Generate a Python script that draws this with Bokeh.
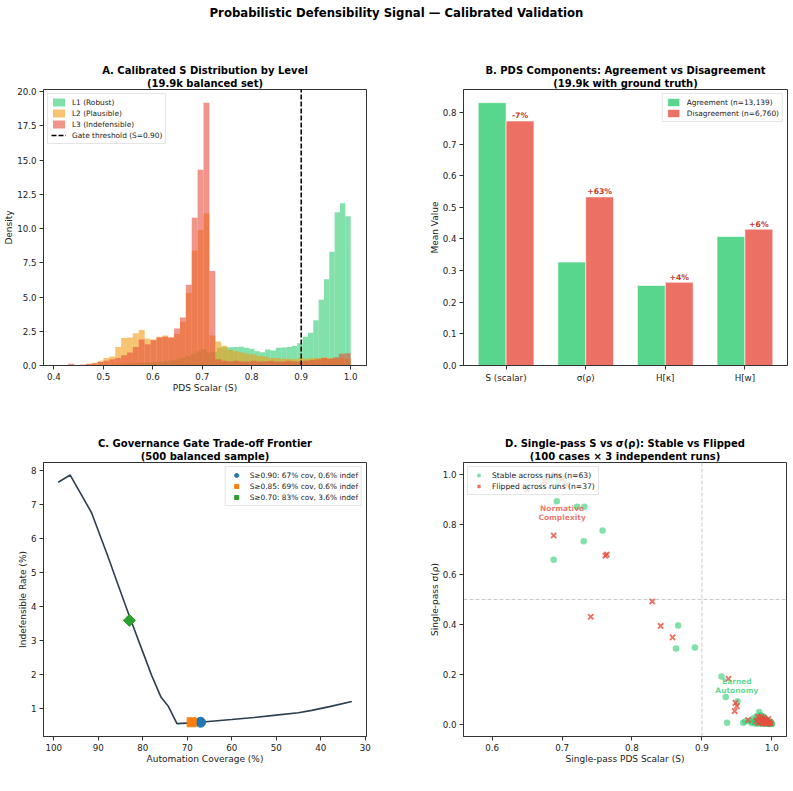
import numpy as np
from bokeh.plotting import figure
from bokeh.models import (Range1d, FixedTicker, NumeralTickFormatter, Legend, LegendItem,
                          Title, Label, Div, Span)
from bokeh.layouts import column, row
from bokeh.embed import file_html
from bokeh.resources import INLINE
from bokeh.core.properties import value

FONT = "DejaVu Sans"

# ---------------- Panel A: calibrated S histograms (density per bin) ----------------
L1_BIN_START, L1_BIN_WIDTH = 0.46, 0.0108
L23_BIN_START, L23_BIN_WIDTH = 0.405, 0.0119
L1_DENSITY = [0.02, 0.03, 0.03, 0.05, 0.06, 0.08, 0.10, 0.12, 0.14, 0.16,
              0.18, 0.20, 0.22, 0.25, 0.28, 0.32, 0.38, 0.45, 0.55, 0.68,
              0.85, 1.05, 1.20, 0.95, 1.00, 1.30, 1.35, 1.33, 1.35, 1.37,
              1.30, 1.22, 1.05, 0.97, 1.17, 1.10, 1.30, 1.32, 1.35, 1.45,
              1.62, 2.10, 2.40, 3.30, 4.80, 6.30, 8.30, 11.20, 11.85, 10.90]
L2_DENSITY = [0.00, 0.00, 0.00, 0.00, 0.05, 0.10, 0.20, 0.35, 0.55, 0.65,
              1.35, 2.00, 2.05, 2.35, 2.60, 1.95, 1.90, 2.10, 2.20, 2.05,
              2.30, 3.20, 5.30, 8.40, 9.90, 11.10, 2.20, 1.75, 1.45, 1.15,
              1.05, 0.95, 0.85, 0.80, 0.70, 0.65, 0.55, 0.55, 0.50, 0.50,
              0.45, 0.55, 0.50, 0.55, 0.55, 0.60, 0.55, 0.50, 0.55, 0.50]
L3_DENSITY = [0.00, 0.00, 0.12, 0.00, 0.05, 0.12, 0.15, 0.25, 0.35, 0.45,
              0.55, 0.75, 0.95, 1.35, 1.90, 1.55, 1.85, 2.05, 2.10, 2.05,
              2.70, 3.50, 5.90, 10.80, 14.30, 19.20, 6.90, 0.45, 0.35, 0.30,
              0.35, 0.30, 0.30, 0.35, 0.30, 0.30, 0.35, 0.30, 0.30, 0.35,
              0.30, 0.30, 0.35, 0.40, 0.45, 0.55, 0.50, 0.60, 0.85, 0.90]
LEVEL_LABELS = ["L1 (Robust)", "L2 (Plausible)", "L3 (Indefensible)"]
GATE_THRESHOLD = 0.90

# ---------------- Panel B: component means ----------------
COMPONENTS = ["S (scalar)", "σ(ρ)", "H[κ]", "H[w]"]
AGREE_MEAN = [0.831, 0.327, 0.253, 0.408]
DISAGREE_MEAN = [0.773, 0.533, 0.263, 0.431]
N_AGREE, N_DISAGREE = 13139, 6760

# ---------------- Panel C: trade-off frontier ----------------
COVERAGE = [99.0, 96.3, 94.0, 91.5, 88.0, 85.0, 82.7, 80.0, 78.0, 75.9, 74.3,
            72.3, 69.1, 67.2, 60.0, 55.0, 50.0, 45.0, 42.0, 38.0, 33.0]
INDEF_RATE = [7.67, 7.88, 7.35, 6.77, 5.55, 4.45, 3.62, 2.68, 1.98, 1.34, 1.08,
              0.56, 0.58, 0.60, 0.68, 0.74, 0.81, 0.88, 0.95, 1.06, 1.21]
GATE_LEVELS = [0.90, 0.85, 0.70]
GATE_COVERAGE = [67, 69, 83]
GATE_INDEF = [0.6, 0.6, 3.6]

# ---------------- Panel D: single-pass S vs sigma(rho) ----------------
STABLE_S = [0.6925, 0.7215, 0.732, 0.758, 0.731, 0.688, 0.866, 0.863, 0.890, 0.928,
            0.934, 0.951, 0.936, 0.959, 0.982,
            0.676, 0.683, 0.689, 0.695, 0.700, 0.705, 0.692,
            0.968, 0.971, 0.974, 0.976, 0.977, 0.979, 0.980, 0.981, 0.982, 0.983,
            0.984, 0.985, 0.986, 0.986, 0.987, 0.988, 0.989, 0.990, 0.990, 0.991,
            0.992, 0.992, 0.993, 0.994, 0.994, 0.995, 0.995, 0.996, 0.996, 0.997,
            0.997, 0.998, 0.998, 0.999, 0.999, 1.000, 0.978, 0.973, 0.988, 0.962, 0.984]
STABLE_SIGMA = [0.894, 0.872, 0.872, 0.777, 0.734, 0.660, 0.396, 0.303, 0.307, 0.191,
                0.109, 0.092, 0.005, 0.005, 0.048,
                0.992, 0.985, 0.998, 0.978, 0.990, 0.968, 0.960,
                0.012, 0.004, 0.008, 0.002, 0.015, 0.006, 0.010, 0.001, 0.018, 0.005,
                0.012, 0.003, 0.020, 0.008, 0.001, 0.014, 0.006, 0.002, 0.024, 0.010,
                0.004, 0.016, 0.001, 0.008, 0.012, 0.003, 0.006, 0.000, 0.010, 0.002,
                0.005, 0.001, 0.007, 0.000, 0.003, 0.001, 0.030, 0.022, 0.030, 0.010, 0.035]
FLIPPED_S = [0.650, 0.707, 0.688, 0.764, 0.762, 0.741, 0.829, 0.841, 0.858, 0.938,
             0.948, 0.950, 0.947, 0.966, 0.980,
             0.680, 0.690, 0.700, 0.675,
             0.978, 0.981, 0.983, 0.984, 0.986, 0.987, 0.988, 0.989, 0.990, 0.991,
             0.992, 0.993, 0.994, 0.995, 0.996, 0.997, 0.999, 0.985]
FLIPPED_SIGMA = [0.943, 0.960, 0.757, 0.681, 0.676, 0.431, 0.492, 0.394, 0.348, 0.182,
                 0.085, 0.072, 0.052, 0.016, 0.029,
                 0.990, 1.000, 0.985, 0.975,
                 0.012, 0.004, 0.020, 0.008, 0.015, 0.002, 0.025, 0.010, 0.005, 0.018,
                 0.001, 0.012, 0.006, 0.020, 0.003, 0.010, 0.002, 0.030]

GREEN, ORANGE, RED = "#2ecc71", "#f39c12", "#e74c3c"
AXIS_COLOR = "#333333"
TEXT_COLOR = "#222222"


def make_fig(x_range, y_range, frame_w, frame_h, left, right, top, bottom):
    p = figure(x_range=x_range, y_range=y_range, frame_width=frame_w, frame_height=frame_h,
               min_border_left=left, min_border_right=right, min_border_top=top,
               min_border_bottom=bottom, output_backend="svg", toolbar_location=None)
    p.outline_line_color = AXIS_COLOR
    p.outline_line_width = 1
    p.grid.visible = False
    for ax in p.axis:
        ax.axis_line_color = AXIS_COLOR
        ax.major_tick_line_color = AXIS_COLOR
        ax.major_tick_out = 4
        ax.major_tick_in = 0
        ax.minor_tick_out = 0
        ax.minor_tick_in = 0
        ax.major_label_text_font = FONT
        ax.major_label_text_font_size = "8.7px"
        ax.major_label_text_color = TEXT_COLOR
        ax.major_label_standoff = 3
        ax.axis_label_text_font = FONT
        ax.axis_label_text_font_size = "9px"
        ax.axis_label_text_font_style = "normal"
        ax.axis_label_text_color = TEXT_COLOR
        ax.axis_label_standoff = 0
    return p


def add_titles(p, line1, line2):
    p.add_layout(Title(text=line2, align="center", text_font=FONT, text_font_size="10px",
                       text_font_style="bold", text_color="black", standoff=1), "above")
    p.add_layout(Title(text=line1, align="center", text_font=FONT, text_font_size="10px",
                       text_font_style="bold", text_color="black", standoff=0), "above")


def style_legend(items, location, font_size="7.4px"):
    return Legend(items=items, location=location, label_text_font=FONT,
                  label_text_font_size=font_size, label_text_color=TEXT_COLOR,
                  glyph_height=10, glyph_width=15, label_height=10,
                  spacing=1, padding=3, margin=4, label_standoff=6,
                  border_line_color="#cccccc", border_line_width=1,
                  background_fill_color="white", background_fill_alpha=0.8)


# ---------------- Panel A ----------------
a_top = max(L3_DENSITY) * 1.05
pA = make_fig(Range1d(0.379, 1.032), Range1d(0, a_top), 323, 276, 43, 34, 61, 43)
add_titles(pA, "A. Calibrated S Distribution by Level", "(19.9k balanced set)")
hist_renderers = []
for dens, start, width, color in [(L1_DENSITY, L1_BIN_START, L1_BIN_WIDTH, GREEN),
                                  (L2_DENSITY, L23_BIN_START, L23_BIN_WIDTH, ORANGE),
                                  (L3_DENSITY, L23_BIN_START, L23_BIN_WIDTH, RED)]:
    edges = start + width * np.arange(len(dens) + 1)
    r = pA.quad(left=edges[:-1], right=edges[1:], bottom=0, top=dens,
                fill_color=color, fill_alpha=0.6, line_color=None)
    hist_renderers.append(r)
gate_r = pA.line(x=[GATE_THRESHOLD, GATE_THRESHOLD], y=[0, a_top], line_color="black",
                 line_width=1.5, line_dash="5 2")
pA.xaxis.ticker = FixedTicker(ticks=[0.4, 0.5, 0.6, 0.7, 0.8, 0.9, 1.0])
pA.xaxis.formatter = NumeralTickFormatter(format="0.0")
pA.yaxis.ticker = FixedTicker(ticks=[0, 2.5, 5, 7.5, 10, 12.5, 15, 17.5, 20])
pA.yaxis.formatter = NumeralTickFormatter(format="0.0")
pA.xaxis.axis_label = "PDS Scalar (S)"
pA.yaxis.axis_label = "Density"
legA_items = [LegendItem(label=lab, renderers=[r]) for lab, r in zip(LEVEL_LABELS, hist_renderers)]
legA_items.append(LegendItem(label=f"Gate threshold (S={GATE_THRESHOLD:.2f})", renderers=[gate_r]))
pA.add_layout(style_legend(legA_items, "top_left"))

# ---------------- Panel B ----------------
BAR_W = 0.35
xb = np.arange(len(COMPONENTS))
b_top = max(AGREE_MEAN + DISAGREE_MEAN) * 1.05
pB = make_fig(Range1d(-0.535, len(COMPONENTS) - 1 + 0.535), Range1d(0, b_top), 324, 276, 63, 6, 61, 43)
add_titles(pB, "B. PDS Components: Agreement vs Disagreement", "(19.9k with ground truth)")
rb1 = pB.vbar(x=xb - BAR_W / 2, top=AGREE_MEAN, width=BAR_W, bottom=0,
              fill_color=GREEN, fill_alpha=0.8, line_color="white", line_width=0.6)
rb2 = pB.vbar(x=xb + BAR_W / 2, top=DISAGREE_MEAN, width=BAR_W, bottom=0,
              fill_color=RED, fill_alpha=0.8, line_color="white", line_width=0.6)
pct_text = [f"{round((d - a) / a * 100):+d}%" for a, d in zip(AGREE_MEAN, DISAGREE_MEAN)]
pB.text(x=xb + BAR_W / 2, y=np.array(DISAGREE_MEAN) + 0.002, text=pct_text,
        text_font=value(FONT), text_font_size="7.7px",
        text_font_style="bold", text_color="#c0392b", text_align="center",
        text_baseline="bottom")
pB.xaxis.ticker = FixedTicker(ticks=list(range(len(COMPONENTS))))
pB.xaxis.major_label_overrides = {i: c for i, c in enumerate(COMPONENTS)}
pB.yaxis.ticker = FixedTicker(ticks=[0, 0.1, 0.2, 0.3, 0.4, 0.5, 0.6, 0.7, 0.8])
pB.yaxis.formatter = NumeralTickFormatter(format="0.0")
pB.yaxis.axis_label = "Mean Value"
pB.add_layout(style_legend([LegendItem(label=f"Agreement (n={N_AGREE:,})", renderers=[rb1]),
                            LegendItem(label=f"Disagreement (n={N_DISAGREE:,})", renderers=[rb2])],
                           "top_right"))

# ---------------- Panel C ----------------
pC = make_fig(Range1d(102.3, 29.7), Range1d(0.18, 8.25), 323, 274, 43, 34, 54, 55)
add_titles(pC, "C. Governance Gate Trade-off Frontier", "(500 balanced sample)")
pC.line(x=COVERAGE, y=INDEF_RATE, line_color="#2c3e50", line_width=1.6)
# circle, square, and a square turned 45 degrees (diamond)
gate_styles = [("circle", "#1f77b4", 10, 0.0), ("square", "#ff7f0e", 9, 0.0),
               ("square", "#2ca02c", 8.5, np.pi / 4)]
legC_items = []
for g, cov, ind, (mk, col, sz, ang) in zip(GATE_LEVELS, GATE_COVERAGE, GATE_INDEF, gate_styles):
    r = pC.scatter(x=[cov], y=[ind], marker=mk, size=sz, angle=ang,
                   fill_color=col, line_color=col)
    legC_items.append(LegendItem(label=f"S≥{g:.2f}: {cov}% cov, {ind}% indef", renderers=[r]))
pC.xaxis.ticker = FixedTicker(ticks=[100, 90, 80, 70, 60, 50, 40, 30])
pC.yaxis.ticker = FixedTicker(ticks=[1, 2, 3, 4, 5, 6, 7, 8])
pC.xaxis.axis_label = "Automation Coverage (%)"
pC.yaxis.axis_label = "Indefensible Rate (%)"
pC.add_layout(style_legend(legC_items, "top_right"))

# ---------------- Panel D ----------------
pD = make_fig(Range1d(0.559, 1.021), Range1d(-0.05, 1.05), 323, 274, 63, 7, 54, 55)
add_titles(pD, "D. Single-pass S vs σ(ρ): Stable vs Flipped", "(100 cases × 3 independent runs)")
pD.add_layout(Span(location=GATE_THRESHOLD, dimension="height", line_color="gray",
                   line_alpha=0.5, line_dash="4 2", line_width=0.8))
pD.add_layout(Span(location=0.5, dimension="width", line_color="gray",
                   line_alpha=0.5, line_dash="4 2", line_width=0.8))
for txt, x, y, col in [("Normative", 0.70, 0.867, RED), ("Complexity", 0.70, 0.831, RED),
                       ("Earned", 0.95, 0.169, GREEN), ("Autonomy", 0.95, 0.133, GREEN)]:
    pD.add_layout(Label(x=x, y=y, text=txt, text_font=FONT, text_font_size="7.5px",
                        text_font_style="bold", text_color=col, text_alpha=0.75,
                        text_align="center", text_baseline="middle"))
rs = pD.scatter(x=STABLE_S, y=STABLE_SIGMA, marker="circle", size=6.5,
                fill_color=GREEN, fill_alpha=0.6, line_color=None)
rf = pD.scatter(x=FLIPPED_S, y=FLIPPED_SIGMA, marker="x", size=7.5,
                line_color=RED, line_alpha=0.8, line_width=1.8)
pD.xaxis.ticker = FixedTicker(ticks=[0.6, 0.7, 0.8, 0.9, 1.0])
pD.xaxis.formatter = NumeralTickFormatter(format="0.0")
pD.yaxis.ticker = FixedTicker(ticks=[0, 0.2, 0.4, 0.6, 0.8, 1.0])
pD.yaxis.formatter = NumeralTickFormatter(format="0.0")
pD.xaxis.axis_label = "Single-pass PDS Scalar (S)"
pD.yaxis.axis_label = "Single-pass σ(ρ)"
pD.add_layout(style_legend([LegendItem(label=f"Stable across runs (n={len(STABLE_S)})", renderers=[rs]),
                            LegendItem(label=f"Flipped across runs (n={len(FLIPPED_S)})", renderers=[rf])],
                           "top_left", font_size="7.6px"))

header = Div(text=('<div style="font-family:\'DejaVu Sans\';font-weight:bold;font-size:11.7px;'
                   'text-align:center;width:793px;padding-top:5px;color:black">'
                   'Probabilistic Defensibility Signal — Calibrated Validation</div>'),
             width=793, height=28, margin=(0, 0, 0, 0))

layout = column(header, row(pA, pB), row(pC, pD))
open("out.html", "w").write(file_html(layout, INLINE))
